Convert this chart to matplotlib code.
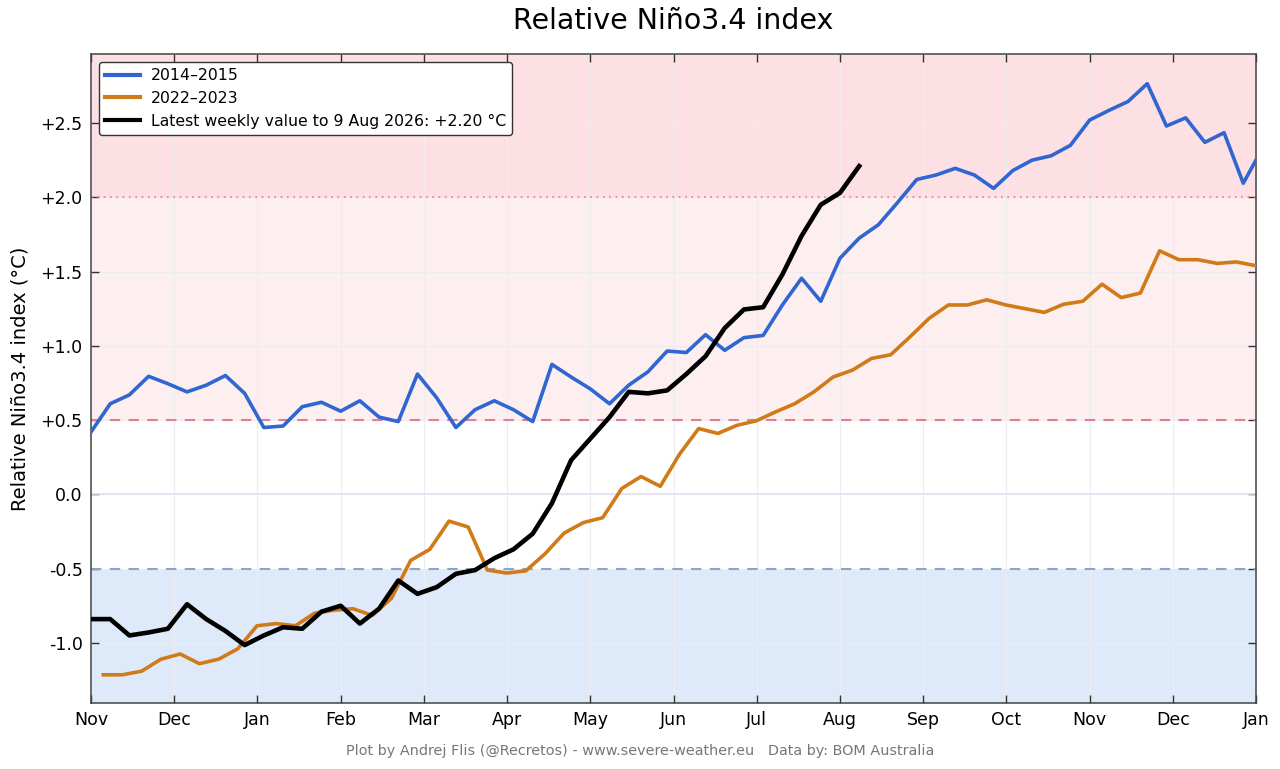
import numpy as np
import matplotlib
matplotlib.use('Agg')
import matplotlib.pyplot as plt
from matplotlib.ticker import FixedLocator, FuncFormatter

# weekly values (week 0 = start of November)
blue_2014 = [0.42, 0.61, 0.67, 0.795, 0.745, 0.69, 0.735, 0.80, 0.68, 0.45,
             0.46, 0.59, 0.62, 0.56, 0.63, 0.52, 0.49, 0.81, 0.65, 0.45,
             0.57, 0.63, 0.57, 0.49, 0.875, 0.79, 0.71, 0.61, 0.735, 0.825,
             0.965, 0.955, 1.075, 0.97, 1.055, 1.07, 1.275, 1.455, 1.30, 1.59,
             1.725, 1.815, 1.965, 2.12, 2.15, 2.195, 2.15, 2.06, 2.18, 2.25,
             2.28, 2.35, 2.52, 2.585, 2.645, 2.765, 2.48, 2.535, 2.37, 2.435,
             2.095, 2.33]
orange_2022 = [-1.215, -1.215, -1.19, -1.11, -1.075, -1.14, -1.11, -1.04, -0.885, -0.87,
               -0.885, -0.80, -0.78, -0.77, -0.815, -0.70, -0.445, -0.37, -0.18, -0.22,
               -0.51, -0.53, -0.515, -0.40, -0.26, -0.19, -0.157, 0.04, 0.12, 0.054,
               0.27, 0.443, 0.41, 0.465, 0.495, 0.555, 0.61, 0.69, 0.79, 0.836,
               0.915, 0.94, 1.06, 1.185, 1.275, 1.275, 1.31, 1.275, 1.25, 1.225,
               1.28, 1.30, 1.415, 1.325, 1.355, 1.64, 1.58, 1.58, 1.555, 1.565,
               1.54]
latest = [-0.84, -0.84, -0.95, -0.93, -0.905, -0.74, -0.84, -0.92, -1.015, -0.95,
          -0.895, -0.905, -0.79, -0.75, -0.87, -0.77, -0.58, -0.67, -0.625, -0.535,
          -0.51, -0.43, -0.37, -0.265, -0.06, 0.23, 0.375, 0.52, 0.69, 0.68,
          0.70, 0.81, 0.93, 1.12, 1.245, 1.26, 1.48, 1.74, 1.95, 2.03,
          2.21]
orange_start_days = 4.5   # 2022-23 weeks are offset a few days

month_labels = ['Nov', 'Dec', 'Jan', 'Feb', 'Mar', 'Apr', 'May', 'Jun',
                'Jul', 'Aug', 'Sep', 'Oct', 'Nov', 'Dec', 'Jan']
yticks = [-1.0, -0.5, 0.0, 0.5, 1.0, 1.5, 2.0, 2.5]

weeks_per_month = 52 / 12
x_blue = np.arange(len(blue_2014))
x_orange = np.arange(len(orange_2022)) + orange_start_days / 7
x_latest = np.arange(len(latest))

fig = plt.figure(figsize=(12.8, 7.69), dpi=100)
ax = fig.add_axes([0.0711, 0.0858, 0.9102, 0.844])

ymin, ymax = -1.405, 2.965
xmax = (len(month_labels) - 1) * weeks_per_month

# background bands
ax.axhspan(2.0, ymax, color='#fde0e4', zorder=0, lw=0)
ax.axhspan(0.5, 2.0, color='#fdeff0', zorder=0, lw=0)
ax.axhspan(ymin, -0.5, color='#deeaf9', zorder=0, lw=0)

ax.axhline(2.0, color='#e08a9a', ls=(0, (1, 2.5)), lw=1.3, zorder=1)
ax.axhline(0.5, color='#e0808f', ls=(0, (5, 4)), lw=1.5, zorder=1)
ax.axhline(-0.5, color='#8ea4c4', ls=(0, (5, 4)), lw=1.5, zorder=1)
ax.axhline(0.0, color='#dde3ee', lw=1.2, zorder=1)

ax.grid(True, color='#ececf1', lw=0.8, zorder=0.5)
ax.set_axisbelow(True)

ax.plot(x_blue, blue_2014, color='#2f66d2', lw=2.6, label='2014\u20132015', zorder=3)
ax.plot(x_orange, orange_2022, color='#d07a18', lw=2.6, label='2022\u20132023', zorder=3)
ax.plot(x_latest, latest, color='black', lw=3.3,
        label='Latest weekly value to 9 Aug 2026: +2.20 \u00b0C', zorder=4)

ax.set_xlim(0, xmax)
ax.set_ylim(ymin, ymax)
ax.xaxis.set_major_locator(FixedLocator(np.arange(len(month_labels)) * weeks_per_month))
ax.set_xticklabels(month_labels)
ax.yaxis.set_major_locator(FixedLocator(yticks))
ax.yaxis.set_major_formatter(FuncFormatter(lambda v, p: '0.0' if v == 0 else f'{v:+.1f}'))

ax.tick_params(direction='in', length=6, width=1, top=True, right=True,
               labelsize=12.5, color='#333333', pad=6)
for s in ax.spines.values():
    s.set_color('#444444')
    s.set_linewidth(1.1)

ax.set_ylabel('Relative Ni\u00f1o3.4 index (\u00b0C)', fontsize=14, labelpad=8)
ax.set_title('Relative Ni\u00f1o3.4 index', fontsize=20.5, pad=18)

leg = ax.legend(loc='upper left', fontsize=11.3, frameon=True, fancybox=True,
                handlelength=2.2, handletextpad=0.7, borderpad=0.4, labelspacing=0.5,
                borderaxespad=0.5, bbox_to_anchor=(0.0, 1.0))
leg.get_frame().set_edgecolor('#333333')
leg.get_frame().set_linewidth(1.0)
leg.get_frame().set_alpha(1)
for h in leg.get_lines():
    h.set_linewidth(3)

fig.text(0.5, 0.024, 'Plot by Andrej Flis (@Recretos) - www.severe-weather.eu   Data by: BOM Australia',
         ha='center', va='center', fontsize=10.4, color='#777777')

plt.savefig('out.png', dpi=100)
